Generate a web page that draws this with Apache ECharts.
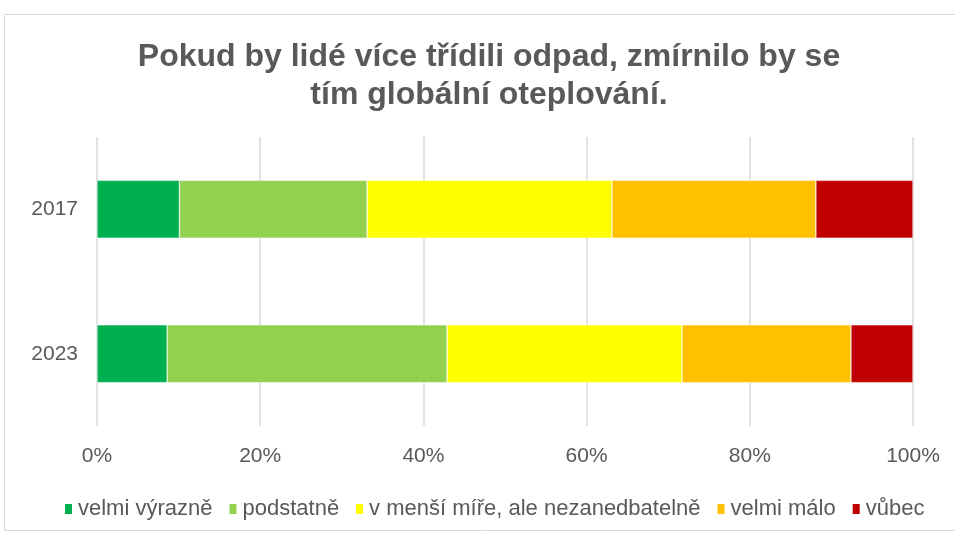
<!DOCTYPE html>
<html><head><meta charset="utf-8">
<script src="https://cdn.jsdelivr.net/npm/echarts@6/dist/echarts.min.js"></script>
<style>html,body{margin:0;padding:0;background:#fff}#c{width:955px;height:533px}</style>
</head><body><div id="c"></div>
<script>
var years = ['2017', '2023'];
var seriesNames = ['velmi výrazně', 'podstatně', 'v menší míře, ale nezanedbatelně', 'velmi málo', 'vůbec'];
var velmiVyrazne = [10.1, 8.6];
var podstatne = [23.0, 34.3];
var vMensiMire = [30.0, 28.8];
var velmiMalo = [25.0, 20.7];
var vubec = [11.9, 7.6];
var colors = ['#00b050', '#92d050', '#ffff00', '#ffc000', '#c00000'];
var xTicks = [0, 20, 40, 60, 80, 100];

var values = [velmiVyrazne, podstatne, vMensiMire, velmiMalo, vubec];
var chart = echarts.init(document.getElementById('c'));
var font = '"Liberation Sans", Arial, sans-serif';
chart.setOption({
  animation: false,
  title: {
    text: 'Pokud by lidé více třídili odpad, zmírnilo by se\ntím globální oteplování.',
    left: 484, top: 33, textAlign: 'center',
    textStyle: { fontFamily: font, fontSize: 32, fontWeight: 'bold', color: '#595959', lineHeight: 38 }
  },
  graphic: [{
    type: 'rect', shape: { x: 4.5, y: 14.5, width: 980, height: 516 },
    style: { fill: 'none', stroke: '#d9d9d9', lineWidth: 1 }, silent: true, z: -1
  }],
  legend: {
    bottom: 8, left: 58, itemWidth: 9, itemHeight: 12, itemGap: 15,
    icon: 'rect',
    textStyle: { fontFamily: font, fontSize: 22, color: '#595959' },
    data: seriesNames
  },
  grid: { left: 97, right: 42, top: 137, height: 289, containLabel: false },
  xAxis: {
    type: 'value', min: 0, max: 100, interval: 20,
    axisLabel: { formatter: function (v) { return xTicks.indexOf(v) >= 0 ? v + '%' : ''; },
      fontFamily: font, fontSize: 21, color: '#595959', margin: 20 },
    splitLine: { lineStyle: { color: '#d9d9d9', width: 1.5 } },
    axisLine: { show: false }, axisTick: { show: false }
  },
  yAxis: {
    type: 'category', data: years, inverse: true,
    axisLabel: { fontFamily: font, fontSize: 21, color: '#595959', margin: 19 },
    axisLine: { show: false }, axisTick: { show: false }
  },
  series: seriesNames.map(function (n, i) {
    return {
      name: n, type: 'bar', stack: 'all', data: values[i], barWidth: '40%',
      itemStyle: { color: colors[i], borderColor: '#ffffff', borderWidth: 0.5 }
    };
  })
});
</script></body></html>
